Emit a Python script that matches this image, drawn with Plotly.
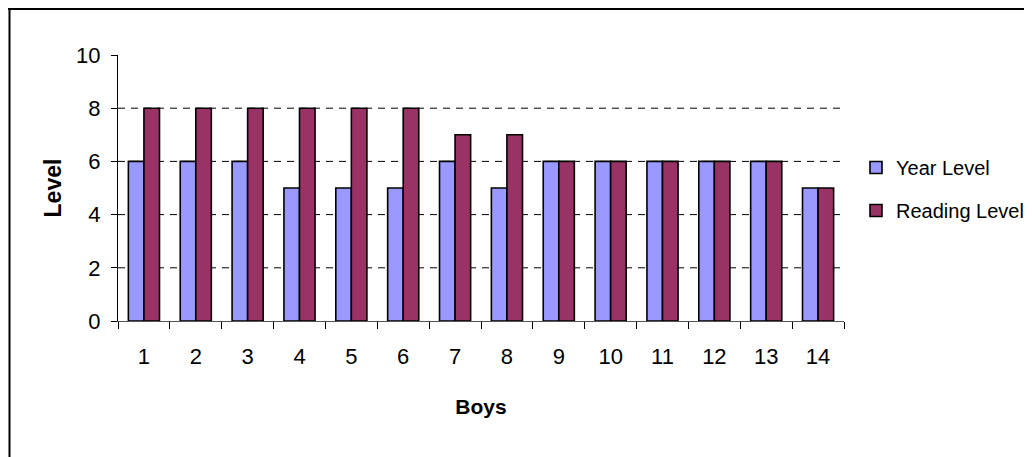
import plotly.graph_objects as go

boys = [str(i) for i in range(1, 15)]
year_level = [6, 6, 6, 5, 5, 5, 6, 5, 6, 6, 6, 6, 6, 5]
reading_level = [8, 8, 8, 8, 8, 8, 7, 7, 6, 6, 6, 6, 6, 5]
y_ticks = [0, 2, 4, 6, 8, 10]
grid_values = [2, 4, 6, 8]

FONT = "Liberation Sans, Arial, sans-serif"

fig = go.Figure()
fig.add_trace(go.Bar(
    x=boys, y=year_level, name="Year Level", legendgroup="a",
    marker=dict(color="#9999FF", line=dict(color="#000000", width=1.6)),
))
fig.add_trace(go.Bar(
    x=boys, y=reading_level, name="Reading Level", legendgroup="b",
    marker=dict(color="#993366", line=dict(color="#000000", width=1.6)),
))

shapes = []
for g in grid_values:
    shapes.append(dict(type="line", xref="paper", yref="y", x0=0, x1=1, y0=g, y1=g,
                       line=dict(color="#000000", width=1, dash="7px,6px"), layer="below"))

# figure pixel geometry (page body adds an 8px offset)
W, H = 1024, 449
L, R, T, B = 110, 188, 47, 136
pw, ph = W - L - R, H - T - B
def px(xp):
    return (xp - L) / pw
def py(yp):
    return (H - B - yp) / ph
shapes.append(dict(type="line", xref="paper", yref="paper", x0=px(0), x1=px(W), y0=py(1), y1=py(1),
                   line=dict(color="#000000", width=2)))
shapes.append(dict(type="line", xref="paper", yref="paper", x0=px(1.5), x1=px(1.5), y0=py(1), y1=py(H),
                   line=dict(color="#000000", width=2)))

fig.update_layout(
    width=W, height=H,
    margin=dict(l=L, r=R, t=T, b=B, autoexpand=False),
    paper_bgcolor="white", plot_bgcolor="white",
    barmode="group", bargap=0.40, bargroupgap=0.0,
    font=dict(family=FONT, size=22, color="#000000"),
    shapes=shapes,
    showlegend=True,
    legend=dict(x=px(848), y=py(140), xanchor="left", yanchor="top",
                font=dict(family=FONT, size=20, color="#000000"),
                tracegroupgap=14, bgcolor="rgba(0,0,0,0)"),
    xaxis=dict(
        title=dict(text="<b>Boys</b>", font=dict(family=FONT, size=21), standoff=30),
        showgrid=False, showline=True, linecolor="#555555", linewidth=1,
        ticks="outside", tickson="boundaries", ticklen=7, tickcolor="#000000",
        tickfont=dict(family=FONT, size=22),
        ticklabelstandoff=16,
    ),
    yaxis=dict(
        title=dict(text="<b>Level</b>", font=dict(family=FONT, size=23), standoff=8),
        range=[0, 10], tickvals=y_ticks, showgrid=False, zeroline=False,
        showline=True, linecolor="#000000", linewidth=1,
        ticks="outside", ticklen=6, tickcolor="#000000",
        tickfont=dict(family=FONT, size=22),
        ticklabelstandoff=6,
    ),
)

fig.write_html("out.html")
